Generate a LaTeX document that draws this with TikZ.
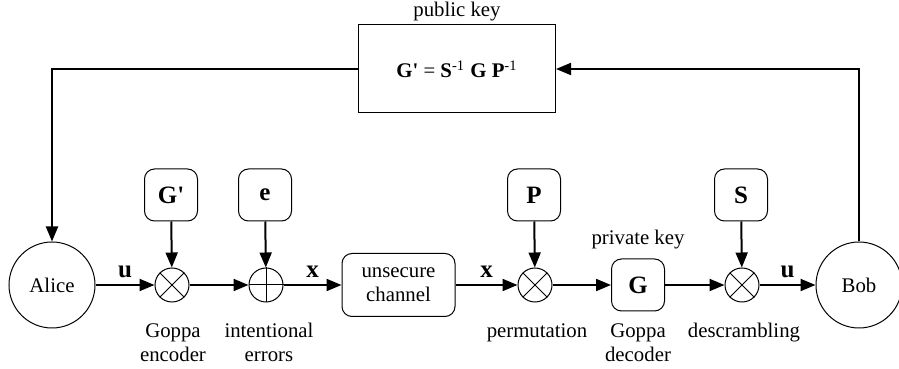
\documentclass[tikz,border=0pt]{standalone}
\usepackage{fontspec}
\setmainfont{Liberation Serif}
\usetikzlibrary{arrows.meta}

\tikzset{
  party/.style={circle, draw, line width=0.5pt, minimum size=43pt, inner sep=0pt},
  keybox/.style={rectangle, rounded corners=5pt, draw, line width=0.5pt,
    minimum width=26.5pt, minimum height=26pt, inner sep=0pt,
    font=\fontsize{12.5}{14}\selectfont\bfseries},
  mixer/.style={circle, draw, line width=0.5pt, minimum size=17pt, inner sep=0pt},
  flow/.style={->, line width=1pt},
  vec/.style={above, midway, font=\fontsize{12.5}{14}\selectfont\bfseries},
}

\begin{document}
\begin{tikzpicture}[x=0.5pt, y=0.5pt, >={Triangle[length=7.5pt, width=6pt]},
  font=\fontsize{10.4}{12}\selectfont]

\useasboundingbox (0,0) rectangle (899,369);

\node [party] (alice) at (52,84) {Alice};
\node [party] (bob) at (859,84) {Bob};

\node [rectangle, draw, line width=0.5pt, minimum width=98.5pt, minimum height=44pt]
  (pubkey) at (457,300)
  {\textbf{G\textquotesingle} = \textbf{S}\textsuperscript{-1} \textbf{G} \textbf{P}\textsuperscript{-1}};
\node [inner sep=0pt] (pubkey-lbl) at (457,357) {public key};

\foreach \n/\x in {enc/172, mperm/535, mdesc/742}
  {
  \node [mixer] (\n) at (\x,84) {};
  \draw [line width=0.5pt] (\n.45) -- (\n.225) (\n.135) -- (\n.315);
  }
\node [mixer] (add) at (266,84) {};
\draw [line width=0.5pt] (add.north) -- (add.south) (add.east) -- (add.west);

\node [rectangle, rounded corners=5pt, draw, line width=0.5pt, align=center,
  minimum width=56.5pt, minimum height=31.5pt] (chan) at (398.5,84) {unsecure\\channel};
\node [keybox] (dec) at (638,84) {G};
\node [above=1pt] (dec-lbl) at (dec.north) {private key};

\foreach \n/\x/\t in {gpub/171/G\textquotesingle, err/265/e, perm/534/P, scr/741/S}
  \node [keybox] (\n) at (\x,174) {\t};

\foreach \a/\b in {gpub/enc, err/add, perm/mperm, scr/mdesc}
  \draw [flow] (\a) -- (\b);

\draw [flow] (alice) -- (enc)
  node [vec] {u};
\draw [flow] (enc) -- (add);
\draw [flow] (add) -- (chan)
  node [vec] {x};
\draw [flow] (chan) -- (mperm)
  node [vec] {x};
\draw [flow] (mperm) -- (dec);
\draw [flow] (dec) -- (mdesc);
\draw [flow] (mdesc) -- (bob)
  node [vec] {u};

% key distribution
\draw [flow] (pubkey.west) -| (alice.north);
\draw [flow] (bob.north) |- (pubkey.east);

\foreach \n/\x/\t in {enc/173/Goppa\\encoder, add/269/intentional\\errors,
    mperm/537/permutation, dec/638/Goppa\\decoder, mdesc/744/descrambling}
  \node [align=center, anchor=north, inner sep=0pt] (\n-lbl) at (\x,46) {\t};

\end{tikzpicture}
\end{document}
